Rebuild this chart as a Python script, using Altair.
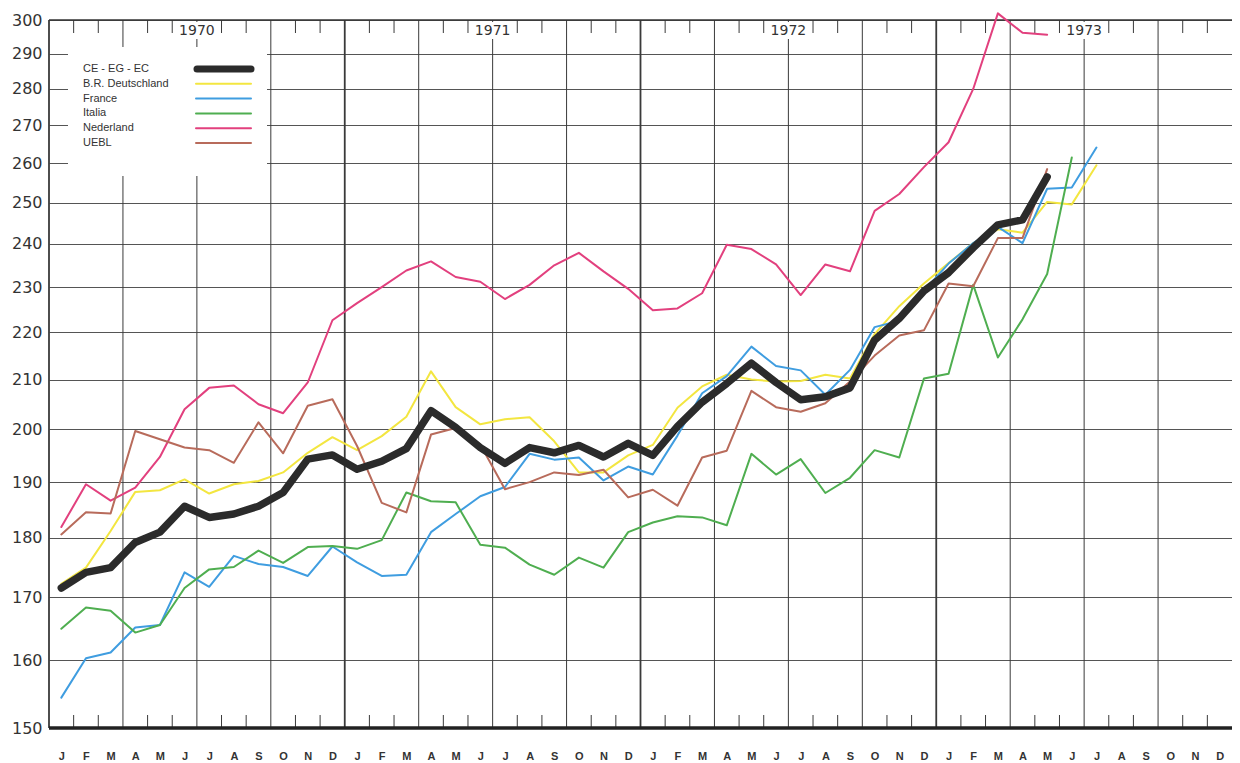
import altair as alt
import pandas as pd

# ---------------- data ----------------
MONTH_LETTERS = ["J", "F", "M", "A", "M", "J", "J", "A", "S", "O", "N", "D"]
YEARS = ["1970", "1971", "1972", "1973"]
Y_TICKS = list(range(150, 301, 10))
SERIES = ["CE - EG - EC", "B.R. Deutschland", "France", "Italia", "Nederland", "UEBL"]
COLORS = ["#2b2b2b", "#f3e640", "#3f9de0", "#4fae50", "#e2407e", "#b86b5b"]

ce = [171.5, 174.1, 174.9, 179.2, 181.0, 185.6, 183.6, 184.2, 185.6, 188.1, 194.3, 195.1,
      192.4, 193.9, 196.3, 203.7, 200.4, 196.5, 193.5, 196.5, 195.5, 196.9, 194.7, 197.3,
      195.0, 200.6, 205.4, 209.2, 213.4, 209.4, 205.9, 206.5, 208.3, 218.3, 223.0, 229.1,
      233.3, 239.1, 244.6, 245.8, 256.5]
brd = [172.2, 174.9, 181.2, 188.2, 188.5, 190.5, 187.9, 189.6, 190.2, 191.8, 195.5, 198.5,
       196.0, 198.7, 202.5, 211.7, 204.4, 201.0, 202.0, 202.4, 197.7, 191.8, 191.8, 195.0,
       197.0, 204.3, 208.6, 211.0, 210.0, 209.6, 209.7, 211.0, 210.2, 219.6, 225.7, 230.8,
       235.5, 240.2, 243.5, 242.7, 250.2, 249.6, 259.5]
france = [154.4, 160.3, 161.2, 165.1, 165.5, 174.1, 171.7, 176.9, 175.5, 175.0, 173.5, 178.5,
          175.8, 173.5, 173.7, 181.0, 184.2, 187.4, 189.1, 195.3, 194.2, 194.6, 190.3, 192.9,
          191.4, 198.8, 207.2, 210.7, 216.9, 212.8, 211.9, 206.9, 212.0, 221.1, 222.5, 229.2,
          235.4, 240.2, 244.1, 240.2, 253.5, 253.8, 264.1]
italia = [164.9, 168.3, 167.8, 164.3, 165.5, 171.5, 174.6, 175.0, 177.8, 175.7, 178.4, 178.6,
          178.1, 179.6, 188.1, 186.5, 186.3, 178.8, 178.3, 175.4, 173.7, 176.6, 174.9, 181.0,
          182.7, 183.8, 183.6, 182.2, 195.3, 191.4, 194.3, 188.0, 190.8, 196.0, 194.6, 210.2,
          211.2, 230.5, 214.6, 222.8, 233.0, 261.5]
nederland = [181.9, 189.6, 186.6, 189.0, 194.7, 204.0, 208.3, 208.8, 205.0, 203.2, 209.4, 222.6,
             226.4, 230.0, 233.8, 235.9, 232.3, 231.2, 227.3, 230.5, 235.0, 237.9, 233.6, 229.6,
             224.8, 225.2, 228.6, 239.8, 238.8, 235.2, 228.2, 235.2, 233.6, 248.0, 252.2, 259.0,
             265.5, 280.0, 302.0, 296.2, 295.6]
uebl = [180.6, 184.5, 184.3, 199.7, 198.1, 196.5, 196.0, 193.6, 201.4, 195.4, 204.7, 206.0,
        196.8, 186.2, 184.5, 199.0, 200.3, 197.1, 188.7, 190.0, 191.8, 191.3, 192.3, 187.2,
        188.6, 185.7, 194.6, 195.9, 207.7, 204.4, 203.5, 205.2, 209.6, 215.0, 219.3, 220.4,
        230.8, 230.2, 241.4, 241.4, 258.5]

ALL = [ce, brd, france, italia, nederland, uebl]

rows = []
for name, vals in zip(SERIES, ALL):
    for i, v in enumerate(vals):
        rows.append({"series": name, "m": i + 0.5, "v": v})
df = pd.DataFrame(rows)
df_black = df[df.series == SERIES[0]]
df_col = df[df.series != SERIES[0]]

W, H = 1183, 708
N_MONTHS = 48
SHIFT = 15  # the printed scale is a slightly offset logarithmic scale

xs = alt.Scale(domain=[0, N_MONTHS], nice=False, zero=False)
ys = alt.Scale(type="log", domain=[Y_TICKS[0] - SHIFT, Y_TICKS[-1] - SHIFT], nice=False, zero=False)

label_expr = "[" + ",".join("'%s'" % c for c in MONTH_LETTERS) + "][floor(datum.value) % 12]"
xaxis = alt.Axis(values=[i + 0.5 for i in range(N_MONTHS)], labelExpr=label_expr,
                 domain=False, ticks=False, grid=False, labelPadding=22,
                 labelFont="Liberation Sans", labelFontSize=11, labelFontWeight="bold",
                 labelColor="#333", title=None, labelOverlap=False, labelFlush=False)
yaxis = alt.Axis(values=[t - SHIFT for t in Y_TICKS], labelExpr="datum.value + %d" % SHIFT,
                 domain=False, ticks=False, grid=True,
                 gridColor="#555", gridWidth=1, labelFont="DejaVu Sans", labelFontSize=16,
                 labelColor="#333", labelPadding=7, title=None, labelOverlap=False,
                 labelFlush=False)

color_scale = alt.Scale(domain=SERIES, range=COLORS)
YTOP = Y_TICKS[-1] - SHIFT
YBOT = Y_TICKS[0] - SHIFT

# grid structure
quarters = pd.DataFrame({"m": list(range(0, N_MONTHS, 3))})
quarters["w"] = [1.8 if q % 12 == 0 else 1.0 for q in quarters.m]
ticks = pd.DataFrame({"m": [m for m in range(1, N_MONTHS) if m % 3 != 0]})

base_grid = alt.Chart(quarters).mark_rule(color="#3a3a3a").encode(
    x=alt.X("m:Q", scale=xs, axis=xaxis),
    y=alt.Y(datum=YTOP, scale=ys, axis=yaxis),
    y2=alt.Y2(datum=YBOT),
    strokeWidth=alt.StrokeWidth("w:Q", scale=None, legend=None),
)
top_ticks = alt.Chart(ticks).mark_rule(color="#3a3a3a", strokeWidth=1).encode(
    x=alt.X("m:Q", scale=xs, axis=xaxis), y=alt.value(0), y2=alt.value(13))
bot_ticks = alt.Chart(ticks).mark_rule(color="#3a3a3a", strokeWidth=1).encode(
    x=alt.X("m:Q", scale=xs, axis=xaxis), y=alt.value(H - 13), y2=alt.value(H))

frame = pd.DataFrame({"a": [0], "b": [N_MONTHS]})
bottom_line = alt.Chart(frame).mark_rule(color="#222", strokeWidth=3.5).encode(
    x=alt.X("a:Q", scale=xs, axis=xaxis), x2="b:Q", y=alt.Y(datum=YBOT, scale=ys, axis=yaxis))
top_line = alt.Chart(frame).mark_rule(color="#333", strokeWidth=1.5).encode(
    x=alt.X("a:Q", scale=xs, axis=xaxis), x2="b:Q", y=alt.Y(datum=YTOP, scale=ys, axis=yaxis))

col_lines = alt.Chart(df_col).transform_calculate(vv="datum.v - %d" % SHIFT).mark_line(
    strokeJoin="round", strokeCap="round", strokeWidth=2).encode(
    x=alt.X("m:Q", scale=xs, axis=xaxis),
    y=alt.Y("vv:Q", scale=ys, axis=yaxis),
    color=alt.Color("series:N", scale=color_scale, legend=None),
)
black_line = alt.Chart(df_black).transform_calculate(vv="datum.v - %d" % SHIFT).mark_line(
    strokeJoin="round", strokeCap="round", color=COLORS[0], strokeWidth=7.5).encode(
    x=alt.X("m:Q", scale=xs, axis=xaxis),
    y=alt.Y("vv:Q", scale=ys, axis=yaxis),
)

# legend (drawn inside the plot)
leg = pd.DataFrame({"series": SERIES, "row": list(range(len(SERIES)))})
leg_box = alt.Chart(frame).mark_rect(fill="white").encode(
    x=alt.value(19), x2=alt.value(218), y=alt.value(27), y2=alt.value(156))
leg_text = alt.Chart(leg).transform_calculate(py="49 + datum.row * 14.8").mark_text(
    align="left", baseline="middle", font="Liberation Sans", fontSize=11, color="#333"
).encode(x=alt.value(34), y=alt.Y("py:Q", scale=None, axis=None), text="series:N")
leg_black = alt.Chart(leg[leg.row == 0]).transform_calculate(py="49 + datum.row * 14.8").mark_rule(
    strokeCap="round", strokeWidth=7, color=COLORS[0]).encode(
    x=alt.value(148), x2=alt.value(202), y=alt.Y("py:Q", scale=None, axis=None))
leg_lines = alt.Chart(leg[leg.row > 0]).transform_calculate(py="49 + datum.row * 14.8").mark_rule(
    strokeCap="round", strokeWidth=2).encode(
    x=alt.value(147), x2=alt.value(202), y=alt.Y("py:Q", scale=None, axis=None),
    color=alt.Color("series:N", scale=color_scale, legend=None),
)

# year labels
yr = pd.DataFrame({"year": YEARS, "mid": [6 + 12 * i for i in range(len(YEARS))]})
yr_bg = alt.Chart(yr).transform_calculate(a="datum.mid - 0.85", b="datum.mid + 0.85").mark_rect(
    fill="white").encode(x=alt.X("a:Q", scale=xs, axis=xaxis), x2="b:Q",
                         y=alt.value(2), y2=alt.value(19))
yr_text = alt.Chart(yr).mark_text(font="DejaVu Sans", fontSize=14, color="#333",
                                  baseline="middle").encode(
    x=alt.X("mid:Q", scale=xs, axis=xaxis), y=alt.value(11), text="year:N")

chart = alt.layer(
    base_grid, top_ticks, bot_ticks, top_line, col_lines, black_line, bottom_line,
    leg_box, leg_black, leg_lines, leg_text, yr_bg, yr_text,
).properties(
    width=W, height=H,
    padding={"left": 41, "top": 12, "right": 0, "bottom": 37},
    autosize=alt.AutoSizeParams(type="none"),
    background="white",
).configure_view(stroke=None)

chart.save("out.html", embed_options={"renderer": "svg", "actions": False})
